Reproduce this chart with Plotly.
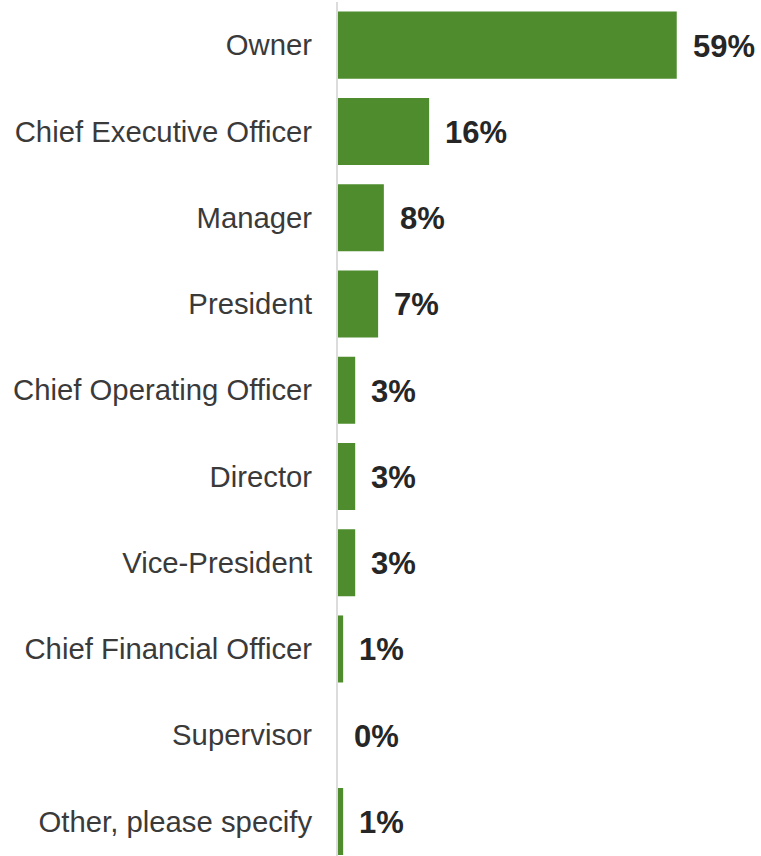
import plotly.graph_objects as go

categories = ["Owner", "Chief Executive Officer", "Manager", "President",
              "Chief Operating Officer", "Director", "Vice-President",
              "Chief Financial Officer", "Supervisor", "Other, please specify"]
values = [59.1, 15.9, 8.0, 7.0, 3.0, 3.0, 3.0, 0.9, 0.0, 0.9]
labels = ["59%", "16%", "8%", "7%", "3%", "3%", "3%", "1%", "0%", "1%"]

FONT = "Liberation Sans, Arial, sans-serif"

fig = go.Figure(go.Bar(
    x=values, y=categories, orientation="h",
    marker=dict(color="#4e8c2e", line=dict(width=0)),
    hoverinfo="skip",
))

for c, v, t in zip(categories, values, labels):
    fig.add_annotation(x=v, y=c, text="<b>%s</b>" % t, showarrow=False,
                       xanchor="left", yanchor="middle", xshift=14, yshift=-1,
                       font=dict(family=FONT, size=31, color="#262626"))

fig.update_layout(
    width=761, height=856,
    margin=dict(l=338, r=0, t=2, b=0),
    paper_bgcolor="white", plot_bgcolor="white",
    bargap=0.223,
    showlegend=False,
    xaxis=dict(range=[0, 73.8], visible=False, fixedrange=True),
    yaxis=dict(categoryorder="array", categoryarray=categories,
               range=[9.40, -0.5],
               showline=True, linecolor="#dcdcdc", linewidth=2,
               showgrid=False, zeroline=False,
               ticks="outside", ticklen=18, tickcolor="rgba(0,0,0,0)",
               tickfont=dict(family=FONT, size=29.3, color="#3a3a3a")),
)

fig.write_html("out.html", config={"displayModeBar": False},
               post_script="document.body.style.margin='0px';")
